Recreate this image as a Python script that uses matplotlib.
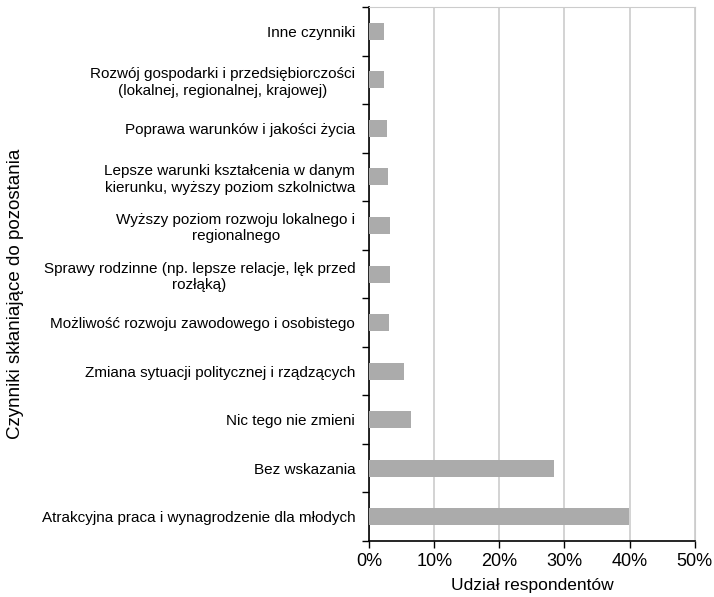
import matplotlib.pyplot as plt
import numpy as np

plt.rcParams['font.family'] = ['Liberation Sans', 'DejaVu Sans']

categories = [
    'Inne czynniki',
    'Rozwój gospodarki i przedsiębiorczości\n(lokalnej, regionalnej, krajowej)',
    'Poprawa warunków i jakości życia',
    'Lepsze warunki kształcenia w danym\nkierunku, wyższy poziom szkolnictwa',
    'Wyższy poziom rozwoju lokalnego i\nregionalnego',
    'Sprawy rodzinne (np. lepsze relacje, lęk przed\nrozłąką)',
    'Możliwość rozwoju zawodowego i osobistego',
    'Zmiana sytuacji politycznej i rządzących',
    'Nic tego nie zmieni',
    'Bez wskazania',
    'Atrakcyjna praca i wynagrodzenie dla młodych',
]
values = [2.3, 2.3, 2.7, 2.9, 3.2, 3.2, 3.1, 5.3, 6.4, 28.4, 39.9]
xticks = [0, 10, 20, 30, 40, 50]

fig = plt.figure(figsize=(7.14, 5.97), dpi=100)
ax = fig.add_axes([0.517, 0.094, 0.456, 0.894])

n = len(categories)
y = np.arange(n)[::-1]
ax.barh(y, values, height=0.35, color='#ababab', zorder=3)

ax.set_xlim(0, 50)
ax.set_ylim(-0.5, n - 0.5)
ax.set_xticks(xticks)
ax.set_xticklabels([f'{t}%' for t in xticks], fontsize=13)
ax.set_yticks(y)
ax.set_yticklabels(categories, fontsize=11, multialignment='center')
ax.tick_params(axis='y', length=0, pad=10)
ax.set_yticks(np.arange(-0.5, n, 1), minor=True)
ax.tick_params(axis='y', which='minor', length=5, width=1, direction='out')
ax.tick_params(axis='x', length=5, width=1, direction='out')

ax.grid(axis='x', color='#cccccc', linewidth=1.2, zorder=0)
ax.spines['top'].set_color('#cccccc')
ax.spines['right'].set_color('#cccccc')
ax.spines['left'].set_linewidth(1.2)
ax.spines['bottom'].set_linewidth(1.2)

ax.set_xlabel('Udział respondentów', fontsize=12.5, labelpad=6)
fig.text(16 / 714, 0.508, 'Czynniki skłaniające do pozostania', fontsize=13.5,
         rotation=90, ha='center', va='center')

fig.savefig('out.png', dpi=100)
